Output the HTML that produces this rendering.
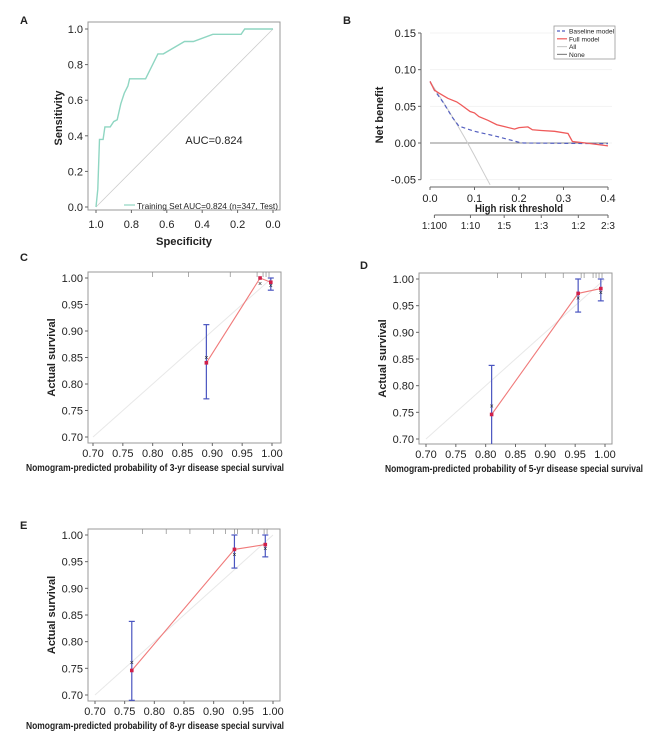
<!DOCTYPE html>
<html><head><meta charset="utf-8"><style>
body{margin:0;background:#fff;}
svg{display:block;font-family:"Liberation Sans",sans-serif;}
text{fill:#222;}
</style></head><body>
<svg id="fig" width="666" height="742" viewBox="0 0 666 742"></svg>
<script>
// ROC data (panel A)
const rocSpec=[1.0,0.99,0.98,0.96,0.95,0.92,0.9,0.88,0.86,0.84,0.82,0.81,0.72,0.65,0.62,0.5,0.45,0.34,0.18,0.16,0.0];
const rocSens=[0,0.1,0.38,0.38,0.45,0.45,0.48,0.49,0.58,0.64,0.68,0.72,0.72,0.86,0.86,0.93,0.93,0.97,0.97,1.0,1.0];
const rocTicks=[1.0,0.8,0.6,0.4,0.2,0.0];
// DCA data (panel B)
const fullT=[0,0.01,0.02,0.04,0.06,0.07,0.09,0.1,0.11,0.13,0.15,0.17,0.19,0.2,0.22,0.23,0.25,0.28,0.31,0.32,0.35,0.4];
const fullNB=[0.084,0.072,0.068,0.061,0.056,0.052,0.043,0.041,0.036,0.031,0.025,0.022,0.019,0.021,0.022,0.018,0.017,0.016,0.013,0.002,0.0,-0.004];
const baseT=[0,0.01,0.03,0.05,0.065,0.1,0.15,0.2,0.21,0.4];
const baseNB=[0.084,0.072,0.055,0.035,0.023,0.016,0.009,0.001,0,-0.001];
const allT=[0,0.02,0.04,0.06,0.08,0.1,0.12,0.135];
const allNB=[0.084,0.065,0.046,0.026,0.005,-0.017,-0.040,-0.057];
const dcaYTicks=[0.15,0.10,0.05,0.00,-0.05];
const dcaXTicks=[0.0,0.1,0.2,0.3,0.4];
const oddsLabels=["1:100","1:10","1:5","1:3","1:2","2:3"];
const oddsT=[0.0099,0.0909,0.1667,0.25,0.3333,0.4];
// Calibration data (C,D,E)
const calTicks=[0.70,0.75,0.80,0.85,0.90,0.95,1.00];
const cPred=[0.89,0.98,0.998], cObs=[0.84,1.0,0.992], cLo=[0.772,null,0.977], cHi=[0.912,null,1.0], cKM=[0.85,0.99,0.986];
const dPred=[0.81,0.955,0.993], dObs=[0.746,0.973,0.982], dLo=[0.69,0.938,0.959], dHi=[0.838,1.0,1.0], dKM=[0.762,0.964,0.975];
const ePred=[0.762,0.935,0.987], eObs=[0.746,0.973,0.982], eLo=[0.69,0.938,0.959], eHi=[0.838,1.0,1.0], eKM=[0.761,0.963,0.975];
const rugC=[0.80,0.86,0.93,0.975,0.985,0.99,0.995];
const rugD=[0.82,0.86,0.9,0.93,0.96,0.965,0.98,0.985,0.99,0.995];
const rugE=[0.78,0.82,0.86,0.9,0.92,0.935,0.94,0.965,0.975,0.985,0.99];

const NS="http://www.w3.org/2000/svg";
const svg=document.getElementById('fig');
function mk(tag,attrs,parent,txt){const e=document.createElementNS(NS,tag);for(const k in attrs)e.setAttribute(k,attrs[k]);if(txt!==undefined)e.textContent=txt;(parent||svg).appendChild(e);return e;}
function lin(d0,d1,r0,r1){return v=>r0+(v-d0)*(r1-r0)/(d1-d0);}
function poly(xs,ys,sx,sy){return xs.map((x,i)=>sx(x).toFixed(1)+','+sy(ys[i]).toFixed(1)).join(' ');}

[["A",20,24],["B",343,24],["C",20,261],["D",360,269],["E",20,529]].forEach(p=>{
  const t=mk('text',{x:p[1],y:p[2],'font-size':11,'font-weight':'bold'},svg,p[0]);
  
  
});

// ---- Panel A ----
(function(){
  const g=mk('g',{});
  
  
  const sx=lin(1,0,96,273), sy=lin(0,1,207,29);
  mk('rect',{x:88,y:22,width:192,height:188,fill:'none',stroke:'#999','stroke-width':1},g);
  mk('line',{x1:sx(1),y1:sy(0),x2:sx(0),y2:sy(1),stroke:'#ccc','stroke-width':0.8},g);
  rocTicks.forEach(v=>{
    mk('line',{x1:85,x2:88,y1:sy(v),y2:sy(v),stroke:'#666'},g);
    mk('text',{x:83,y:sy(v)+4,'font-size':11,'text-anchor':'end'},g,v.toFixed(1));
    mk('line',{x1:sx(v),x2:sx(v),y1:210,y2:213,stroke:'#666'},g);
    mk('text',{x:sx(v),y:228,'font-size':11,'text-anchor':'middle'},g,v.toFixed(1));
  });
  const l=mk('polyline',{points:poly(rocSpec,rocSens,sx,sy),fill:'none',stroke:'#8fd6c2','stroke-width':1.4},g);
  
  
  mk('text',{x:214,y:144,'font-size':11,'text-anchor':'middle'},g,'AUC=0.824');
  mk('line',{x1:124,x2:135,y1:205,y2:205,stroke:'#8fd6c2','stroke-width':1.2},g);
  mk('text',{x:137,y:209,'font-size':8.5,textLength:141,lengthAdjust:'spacingAndGlyphs'},g,'Training Set AUC=0.824 (n=347, Test)');
  mk('text',{x:184,y:245,'font-size':11,'font-weight':'bold','text-anchor':'middle',textLength:56,lengthAdjust:'spacingAndGlyphs'},g,'Specificity');
  mk('text',{x:0,y:0,'font-size':11,'font-weight':'bold','text-anchor':'middle',transform:'translate(62,118) rotate(-90)'},g,'Sensitivity');
})();

// ---- Panel B ----
(function(){
  const g=mk('g',{});
  
  
  const sx=lin(0,0.4,430,608), sy=lin(0,0.15,143,33);
  dcaYTicks.forEach(v=>{
    mk('line',{x1:430,x2:612,y1:sy(v),y2:sy(v),stroke:'#f3f3f3'},g);
    mk('line',{x1:418,x2:421,y1:sy(v),y2:sy(v),stroke:'#666'},g);
    mk('text',{x:416,y:sy(v)+4,'font-size':11,'text-anchor':'end'},g,v.toFixed(2));
  });
  mk('line',{x1:421,x2:421,y1:sy(0.15),y2:sy(-0.05),stroke:'#666'},g);
  mk('line',{x1:sx(0),x2:sx(0.4),y1:187,y2:187,stroke:'#666'},g);
  dcaXTicks.forEach(v=>{
    mk('line',{x1:sx(v),x2:sx(v),y1:187,y2:190,stroke:'#666'},g);
    mk('text',{x:sx(v),y:202,'font-size':11,'text-anchor':'middle'},g,v.toFixed(1));
  });
  mk('text',{x:519,y:212,'font-size':11,'font-weight':'bold','text-anchor':'middle',textLength:88,lengthAdjust:'spacingAndGlyphs'},g,'High risk threshold');
  mk('line',{x1:sx(0.0099),x2:sx(0.4),y1:215,y2:215,stroke:'#666'},g);
  oddsLabels.forEach((s,i)=>{
    mk('line',{x1:sx(oddsT[i]),x2:sx(oddsT[i]),y1:215,y2:218,stroke:'#666'},g);
    mk('text',{x:sx(oddsT[i]),y:229,'font-size':10,'text-anchor':'middle'},g,s);
  });
  mk('text',{x:0,y:0,'font-size':11,'font-weight':'bold','text-anchor':'middle',transform:'translate(383,115) rotate(-90)'},g,'Net benefit');
  const none=mk('line',{x1:sx(0),x2:sx(0.4),y1:sy(0),y2:sy(0),stroke:'#888','stroke-width':1},g);
  
  
  const all=mk('polyline',{points:poly(allT,allNB,sx,sy),fill:'none',stroke:'#ccc','stroke-width':1},g);
  
  
  const base=mk('polyline',{points:poly(baseT,baseNB,sx,sy),fill:'none',stroke:'#5560c0','stroke-width':1.2,'stroke-dasharray':'4,3'},g);
  
  
  const full=mk('polyline',{points:poly(fullT,fullNB,sx,sy),fill:'none',stroke:'#ef5a5a','stroke-width':1.3},g);
  
  
  const lg=mk('g',{},g);
  
  
  mk('rect',{x:554,y:26,width:61,height:33,fill:'#fff',stroke:'#999','stroke-width':0.8},lg);
  const items=[['Baseline model','#5560c0','3,2'],['Full model','#ef5a5a',''],['All','#ccc',''],['None','#888','']];
  items.forEach((it,i)=>{
    const y=31+i*7.8;
    mk('line',{x1:557,x2:567,y1:y,y2:y,stroke:it[1],'stroke-width':1.2,'stroke-dasharray':it[2]||'none'},lg);
    mk('text',{x:569,y:y+2.5,'font-size':6.6},lg,it[0]);
  });
})();

function calib(name,box,x0,x1,y1,y0,pred,obs,lo,hi,km,rug,title,tcx){
  const g=mk('g',{});
  
  
  const sx=lin(0.7,1.0,x0,x1), sy=lin(0.7,1.0,y0,y1);
  mk('rect',{x:box[0],y:box[1],width:box[2]-box[0],height:box[3]-box[1],fill:'none',stroke:'#999'},g);
  calTicks.forEach(v=>{
    mk('line',{x1:box[0]-3,x2:box[0],y1:sy(v),y2:sy(v),stroke:'#666'},g);
    mk('text',{x:box[0]-5,y:sy(v)+4,'font-size':11,'text-anchor':'end'},g,v.toFixed(2));
    mk('line',{x1:sx(v),x2:sx(v),y1:box[3],y2:box[3]+3,stroke:'#666'},g);
    mk('text',{x:sx(v),y:box[3]+14,'font-size':11,'text-anchor':'middle'},g,v.toFixed(2));
  });
  rug.forEach(v=>mk('line',{x1:sx(v),x2:sx(v),y1:box[1],y2:box[1]+5,stroke:'#888','stroke-width':0.7},g));
  mk('line',{x1:sx(0.7),y1:sy(0.7),x2:sx(1),y2:sy(1),stroke:'#e8e8e8','stroke-width':1},g);
  const rl=mk('polyline',{points:poly(pred,obs,sx,sy),fill:'none',stroke:'#f07a7a','stroke-width':1.1},g);
  
  
  pred.forEach((p,i)=>{
    if(lo[i]!==null){
      const ylo=Math.min(sy(lo[i]),box[3]);
      mk('line',{x1:sx(p),x2:sx(p),y1:sy(hi[i]),y2:ylo,stroke:'#4a55c0','stroke-width':1.2},g);
      mk('line',{x1:sx(p)-3,x2:sx(p)+3,y1:sy(hi[i]),y2:sy(hi[i]),stroke:'#4a55c0','stroke-width':1.2},g);
      if(sy(lo[i])<box[3]) mk('line',{x1:sx(p)-3,x2:sx(p)+3,y1:sy(lo[i]),y2:sy(lo[i]),stroke:'#4a55c0','stroke-width':1.2},g);
    }
    mk('text',{x:sx(p),y:sy(km[i])+2.5,'font-size':7,'text-anchor':'middle',fill:'#6a75d0'},g,'×');
    const c=mk('rect',{x:sx(p)-1.8,y:sy(obs[i])-1.8,width:3.6,height:3.6,fill:'#d0204a'},g);
    
    
  });
  mk('text',{x:tcx,y:box[3]+28,'font-size':10.5,'font-weight':'bold','text-anchor':'middle',textLength:258,lengthAdjust:'spacingAndGlyphs'},g,title);
  mk('text',{x:0,y:0,'font-size':11,'font-weight':'bold','text-anchor':'middle',transform:'translate('+(box[0]-33)+','+((box[1]+box[3])/2)+') rotate(-90)'},g,'Actual survival');
}
calib('calibration-3yr',[88,272,281,443],93,272,278,437,cPred,cObs,cLo,cHi,cKM,rugC,'Nomogram-predicted probability of 3-yr disease special survival',155);
calib('calibration-5yr',[419,273,612,444],426,605,279,439,dPred,dObs,dLo,dHi,dKM,rugD,'Nomogram-predicted probability of 5-yr disease special survival',514);
calib('calibration-8yr',[88,529,280,701],95,273,535,695,ePred,eObs,eLo,eHi,eKM,rugE,'Nomogram-predicted probability of 8-yr disease special survival',155);
</script>
</body></html>
